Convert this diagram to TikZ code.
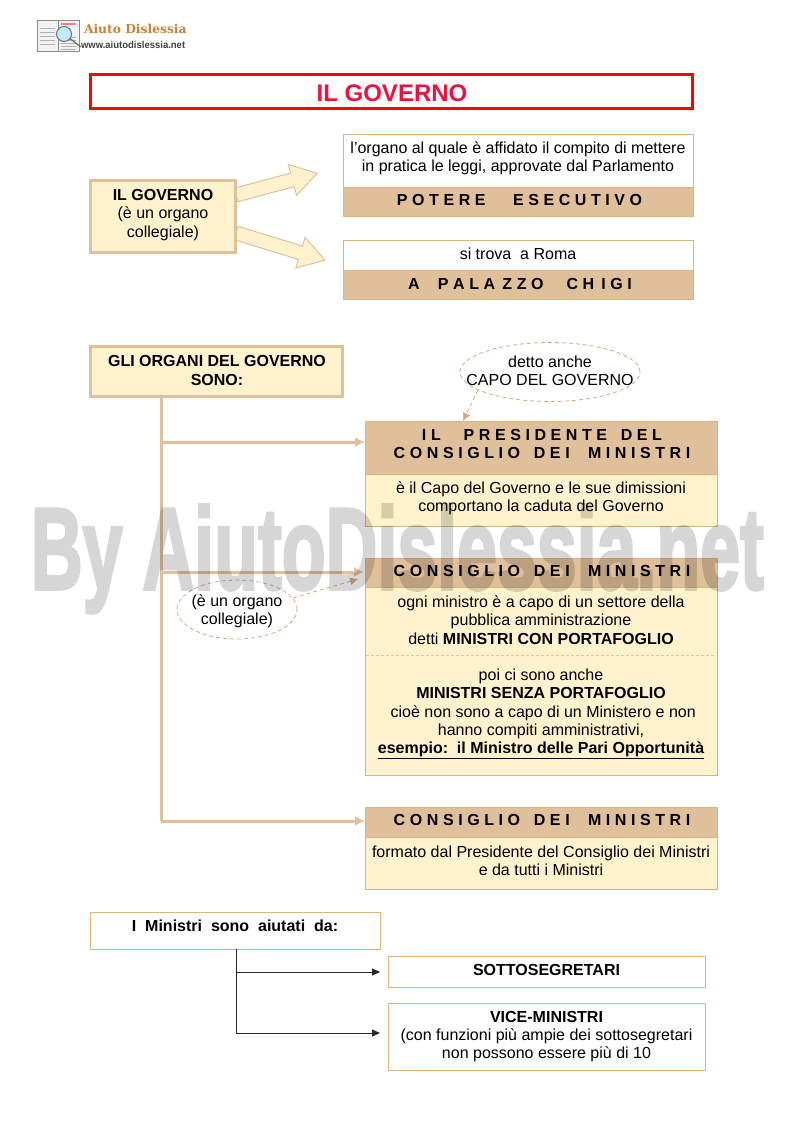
\documentclass[tikz,border=0pt]{standalone}
\usepackage{fontspec}
\setmainfont{Liberation Sans}
\newfontfamily\spacedfont[WordSpace=1.03]{Liberation Sans}
\newfontfamily\logofont{DejaVu Serif}
\newfontfamily\markfont[FakeBold=3]{Liberation Sans}
\usetikzlibrary{arrows.meta,shapes.geometric,shapes.arrows}
\definecolor{tan1}{HTML}{E0C09A}
\definecolor{cream}{HTML}{FFF2CC}
\definecolor{edgetan}{HTML}{E3B27C}
\definecolor{dashtan}{HTML}{D9A877}
\definecolor{titlered}{HTML}{F0103C}

\begin{document}
\begin{tikzpicture}[x=1pt, y=-1pt, every node/.style={outer sep=0pt, inner sep=0pt},
                    txt/.style={font=\fontsize{16}{18.3}\selectfont, align=center},
                    bf/.style={font=\fontsize{16}{18.3}\selectfont\bfseries, align=center},
                    spaced/.style={font=\fontsize{16}{18.3}\selectfont\spacedfont\bfseries, align=center},
                    box/.style={anchor=north west, draw=edgetan, line width=0.9pt},
                    header/.style={box, fill=tan1},
                    body/.style={box, fill=cream},
                    plain/.style={box, fill=white},
                    thick box/.style={anchor=north west, draw=tan1, fill=cream, line width=3pt},
                    fat/.style={single arrow, anchor=tail, draw=tan1, fill=cream, line width=1pt,
                                inner ysep=6.5pt, inner xsep=0pt, single arrow head extend=9pt, single arrow tip angle=64},
                    note/.style={ellipse, draw=dashtan, line width=0.8pt, dash pattern=on 4pt off 3pt},
                    branch/.style={draw=tan1, line width=3pt},
                    tip/.style={-{Latex[length=10pt,width=10pt]}},
                    notearrow/.style={draw=dashtan, line width=0.8pt, dash pattern=on 4pt off 3pt, -{Latex[length=8pt,width=8pt]}},
                    thin/.style={draw=black!85, line width=0.9pt}]
\useasboundingbox (0,0) rectangle (793,1123);

% Logo
\node[draw=black!45, fill=black!5, minimum width=21pt, minimum height=31pt, anchor=north west, line width=0.8pt] (bookL) at (37,20) {};
\node[draw=black!45, fill=black!5, minimum width=21pt, minimum height=31pt, anchor=north west, line width=0.8pt] (bookR) at (58,20) {};
\foreach \i in {1,...,5} {
    \fill[black!30] (40,{24+\i*4}) rectangle (55,{25+\i*4});
    \fill[black!30] (61,{34+\i*3}) rectangle (76,{35+\i*3});
}
\fill[red!50] (61,23) rectangle (76,25);
\node[circle, draw=black!55, fill=cyan!25, minimum size=15pt, line width=1pt] (lens) at (64,34) {};
\coordinate (lensend) at (81,47);
\draw[black!60, line width=1.2pt] (lens) -- (lensend);
\node[font=\logofont\fontsize{12.3}{13}\selectfont\bfseries, text=brown!80!orange, anchor=west] (logotitle) at (84,28.5) {Aiuto Dislessia};
\node[font=\fontsize{10}{10}\selectfont\bfseries, text=black!75, xscale=0.95, transform shape, anchor=west] (logourl) at (81,45) {www.aiutodislessia.net};

% Title
\node[anchor=north west, draw=red, line width=3pt, minimum width=602pt, minimum height=34pt] (title) at (90.5,75) {};
\node[font=\fontsize{24}{24}\selectfont\bfseries, text=titlered] (titletext) at (392,93) {IL GOVERNO};

% First block
\node[fat, minimum height=84pt, minimum width=30pt, rotate=15] (armA) at (236,195) {};
\node[fat, minimum height=93pt, minimum width=31pt, rotate=-17] (armB) at (236,233) {};
\node[thick box, minimum width=145pt, minimum height=72pt] (gov) at (90.5,180.5) {};
\node[txt] (govtext) at (163,215) {\textbf{IL GOVERNO}\\(è un organo\\collegiale)};

\node[plain, minimum width=350pt, minimum height=53pt] (compito) at (343,134) {};
\node[txt] (compitotext) at (518,158.5) {l’organo al quale è affidato il compito di mettere\\in pratica le leggi, approvate dal Parlamento};
\node[header, minimum width=350pt, minimum height=29pt] (potere) at (343,187) {};
\node[spaced] (poteretext) at (519.5,199.5) {P O T E R E\ \ \ \ \ \ E S E C U T I V O};
\node[plain, minimum width=350pt, minimum height=30pt] (roma) at (343,240) {};
\node[txt] (romatext) at (518,254) {si trova\ \ a Roma};
\node[header, minimum width=350pt, minimum height=29pt] (chigi) at (343,270) {};
\node[spaced] (chigitext) at (520,283.5) {A\ \ \ \ P A L A\ \,Z Z O\ \ \ \ \ C H\ \,I G I};

% Organi
\node[thick box, minimum width=252pt, minimum height=50pt] (organi) at (90.5,346.5) {};
\node[bf] (organitext) at (217,370.5) {GLI ORGANI DEL GOVERNO\\SONO:};

% Presidente
\node[header, minimum width=352pt, minimum height=53pt] (pres) at (365,421) {};
\node[spaced] (prestext) at (542,444)
    {I L\ \ \ \ \ P R E S I D E N T E\ \ \ D E L\\C O N S I G L I O\ \ \ D E I\ \ \ \ M I N I S T R I};
\node[body, minimum width=352pt, minimum height=52pt] (presb) at (365,474) {};
\node[txt] (presbtext) at (541,498) {è il Capo del Governo e le sue dimissioni\\comportano la caduta del Governo};
\node[note, minimum width=180pt, minimum height=59pt] (capo) at (550,372) {};
\node[txt] (capotext) at (550,371) {detto anche\\CAPO DEL GOVERNO};

% Consiglio
\node[header, minimum width=352pt, minimum height=29pt] (cons) at (365,558) {};
\node[spaced] (constext) at (542,570.5) {C O N S I G L I O\ \ \ D E I\ \ \ \ M I N I S T R I};
\node[body, minimum width=352pt, minimum height=188pt] (consb) at (365,587) {};
\node[txt] (settore) at (541,620)
    {ogni ministro è a capo di un settore della\\pubblica amministrazione\\detti \textbf{MINISTRI CON PORTAFOGLIO}};
\node[txt] (senza) at (541,714)
    {poi ci sono anche\\\textbf{MINISTRI SENZA PORTAFOGLIO}\\\ cioè non sono a capo di un Ministero e non\\hanno compiti amministrativi,\\\textbf{\underline{esempio:\ \ il Ministro delle Pari Opportunità}}};
\coordinate (sepL) at (366,655);
\coordinate (sepR) at (716,655);
\draw[dashtan!70, line width=0.5pt, dash pattern=on 3pt off 2pt] (sepL) -- (sepR);
\node[note, minimum width=120pt, minimum height=59pt] (collegio) at (237,609.5) {};
\node[txt] (collegiotext) at (237,611) {(è un organo\\collegiale)};

% Consiglio, second one
\node[header, minimum width=352pt, minimum height=30pt] (cons2) at (365,807) {};
\node[spaced] (cons2text) at (542,820) {C O N S I G L I O\ \ \ D E I\ \ \ \ M I N I S T R I};
\node[body, minimum width=352pt, minimum height=52pt] (cons2b) at (365,837) {};
\node[txt] (cons2btext) at (541,861) {formato dal Presidente del Consiglio dei Ministri\\e da tutti i Ministri};

% Branches
\coordinate (trunk) at (161,397);
\coordinate (trunkA) at (161,442);
\coordinate (trunkB) at (161,572);
\coordinate (trunkC) at (161,821);
\coordinate (presin) at (365,442);
\coordinate (consin) at (364,572);
\coordinate (cons2in) at (365,821);
\draw[branch] (trunk) -- (trunkC);
\draw[branch, tip] (trunkA) -- (presin);
\draw[branch, tip] (trunkB) -- (consin);
\draw[branch, tip] (trunkC) -- (cons2in);
\coordinate (capoout) at (478,390);
\coordinate (presnote) at (463,421);
\coordinate (collegioout) at (293,598);
\coordinate (consnote) at (358,579);
\draw[notearrow] (capoout) -- (presnote);
\draw[notearrow] (collegioout) -- (consnote);

% Aiutati
\node[plain, minimum width=290pt, minimum height=37pt] (aiuti) at (90,912) {};
\node[bf] (aiutitext) at (235,926) {I\ \ Ministri\ \ sono\ \ aiutati\ \ da:};
\node[plain, minimum width=317pt, minimum height=31pt] (sotto) at (388,956) {};
\node[bf] (sottotext) at (546.5,970) {SOTTOSEGRETARI};
\node[plain, minimum width=317pt, minimum height=67pt, txt] (vice) at (388,1003)
    {\textbf{VICE-MINISTRI}\\(con funzioni più ampie dei sottosegretari\\non possono essere più di 10};
\coordinate (fork) at (236,949);
\coordinate (forkA) at (236,972);
\coordinate (forkB) at (236,1033);
\coordinate (endA) at (380,972);
\coordinate (endB) at (380,1033);
\draw[thin] (fork) -- (forkB);
\draw[thin, -{Triangle[length=8pt,width=7pt]}] (forkA) -- (endA);
\draw[thin, -{Triangle[length=8pt,width=7pt]}] (forkB) -- (endB);

% Watermark
\begin{scope}[transparency group, opacity=0.16]
    \node[font=\fontsize{116}{116}\selectfont\markfont\bfseries, text=black, xscale=0.618, transform shape, anchor=base west] (mark) at (31,589) {By AiutoDislessia.net};
\end{scope}

\end{tikzpicture}
\end{document}
